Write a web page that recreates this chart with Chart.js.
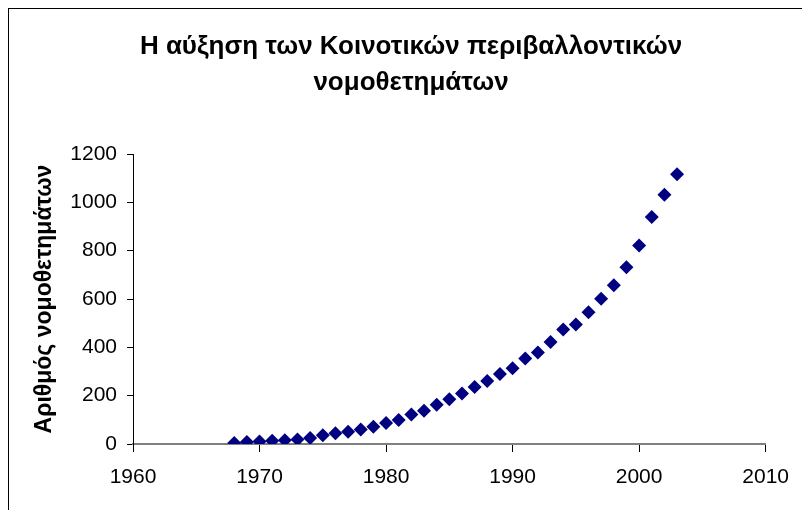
<!DOCTYPE html>
<html>
<head>
<meta charset="utf-8">
<script src="https://cdn.jsdelivr.net/npm/chart.js@4/dist/chart.umd.min.js"></script>
<style>
  html, body { margin: 0; padding: 0; background: #fff; }
  #wrap { position: relative; width: 802px; height: 510px; overflow: hidden; }
  #frame { position: absolute; left: 8px; top: 8px; width: 1000px; height: 1000px; border: 1px solid #000; box-sizing: border-box; }
  #c { position: absolute; left: 0; top: 0; }
</style>
</head>
<body>
<div id="wrap">
  <div id="frame"></div>
  <canvas id="c" width="802" height="510"></canvas>
</div>
<script>
const titleLines = ['Η αύξηση των Κοινοτικών περιβαλλοντικών', 'νομοθετημάτων'];
const yAxisTitle = 'Αριθμός νομοθετημάτων';
const years = [1968, 1969, 1970, 1971, 1972, 1973, 1974, 1975, 1976, 1977, 1978, 1979,
               1980, 1981, 1982, 1983, 1984, 1985, 1986, 1987, 1988, 1989, 1990, 1991,
               1992, 1993, 1994, 1995, 1996, 1997, 1998, 1999, 2000, 2001, 2002, 2003];
const counts = [4, 8, 10, 13, 16, 19, 25, 36, 44, 51, 60, 71,
                87, 99, 122, 138, 162, 185, 209, 236, 261, 290, 313, 354,
                379, 422, 474, 494, 545, 601, 657, 731, 821, 939, 1031, 1116];
const xTickValues = [1960, 1970, 1980, 1990, 2000, 2010];
const yTickValues = [0, 200, 400, 600, 800, 1000, 1200];

const points = years.map((y, i) => ({ x: y, y: counts[i] }));
const FONT = "'Liberation Sans', Arial, sans-serif";

new Chart(document.getElementById('c'), {
  type: 'scatter',
  data: {
    datasets: [{
      data: points,
      pointStyle: 'rectRot',
      pointRadius: 7,
      pointHoverRadius: 7,
      backgroundColor: '#000080',
      borderColor: '#000080',
      borderWidth: 0
    }]
  },
  options: {
    responsive: false,
    animation: false,
    devicePixelRatio: 1,
    layout: { padding: { left: 20, right: 0, top: 0, bottom: 0 } },
    plugins: {
      legend: { display: false },
      tooltip: { enabled: false },
      title: {
        display: true,
        text: titleLines,
        color: '#000',
        font: { family: FONT, size: 26, weight: 'bold', lineHeight: 1.385 },
        padding: { top: 28.5, bottom: 53.5 }
      }
    },
    scales: {
      x: {
        type: 'linear',
        min: 1960, max: 2010,
        afterBuildTicks: (s) => { s.ticks = xTickValues.map(v => ({ value: v })); },
        afterFit: (s) => { s.height = 66; },
        grid: { display: true, drawOnChartArea: false, drawTicks: true, tickLength: 8, color: '#000', tickColor: '#000' },
        border: { display: true, color: '#808080', width: 2 },
        ticks: {
          color: '#000',
          padding: 13,
          maxRotation: 0,
          font: { family: FONT, size: 21 },
          callback: (v) => String(v)
        }
      },
      y: {
        type: 'linear',
        min: 0, max: 1200,
        afterBuildTicks: (s) => { s.ticks = yTickValues.map(v => ({ value: v })); },
        afterFit: (s) => { s.width = 113; },
        grid: { display: true, drawOnChartArea: false, drawTicks: true, tickLength: 6, color: '#000', tickColor: '#000' },
        border: { display: true, color: '#000', width: 1 },
        ticks: {
          color: '#000',
          padding: 10,
          font: { family: FONT, size: 21 },
          callback: (v) => String(v)
        },
        title: {
          display: true,
          text: yAxisTitle,
          color: '#000',
          font: { family: FONT, size: 23, weight: 'bold', lineHeight: 1.2 },
          padding: { top: 11, bottom: 0 }
        }
      },
      yRight: {
        type: 'linear',
        position: 'right',
        display: true,
        afterFit: (s) => { s.width = 31.5; },
        grid: { display: false, drawTicks: false },
        border: { display: false },
        ticks: { display: false }
      }
    }
  }
});
</script>
</body>
</html>
